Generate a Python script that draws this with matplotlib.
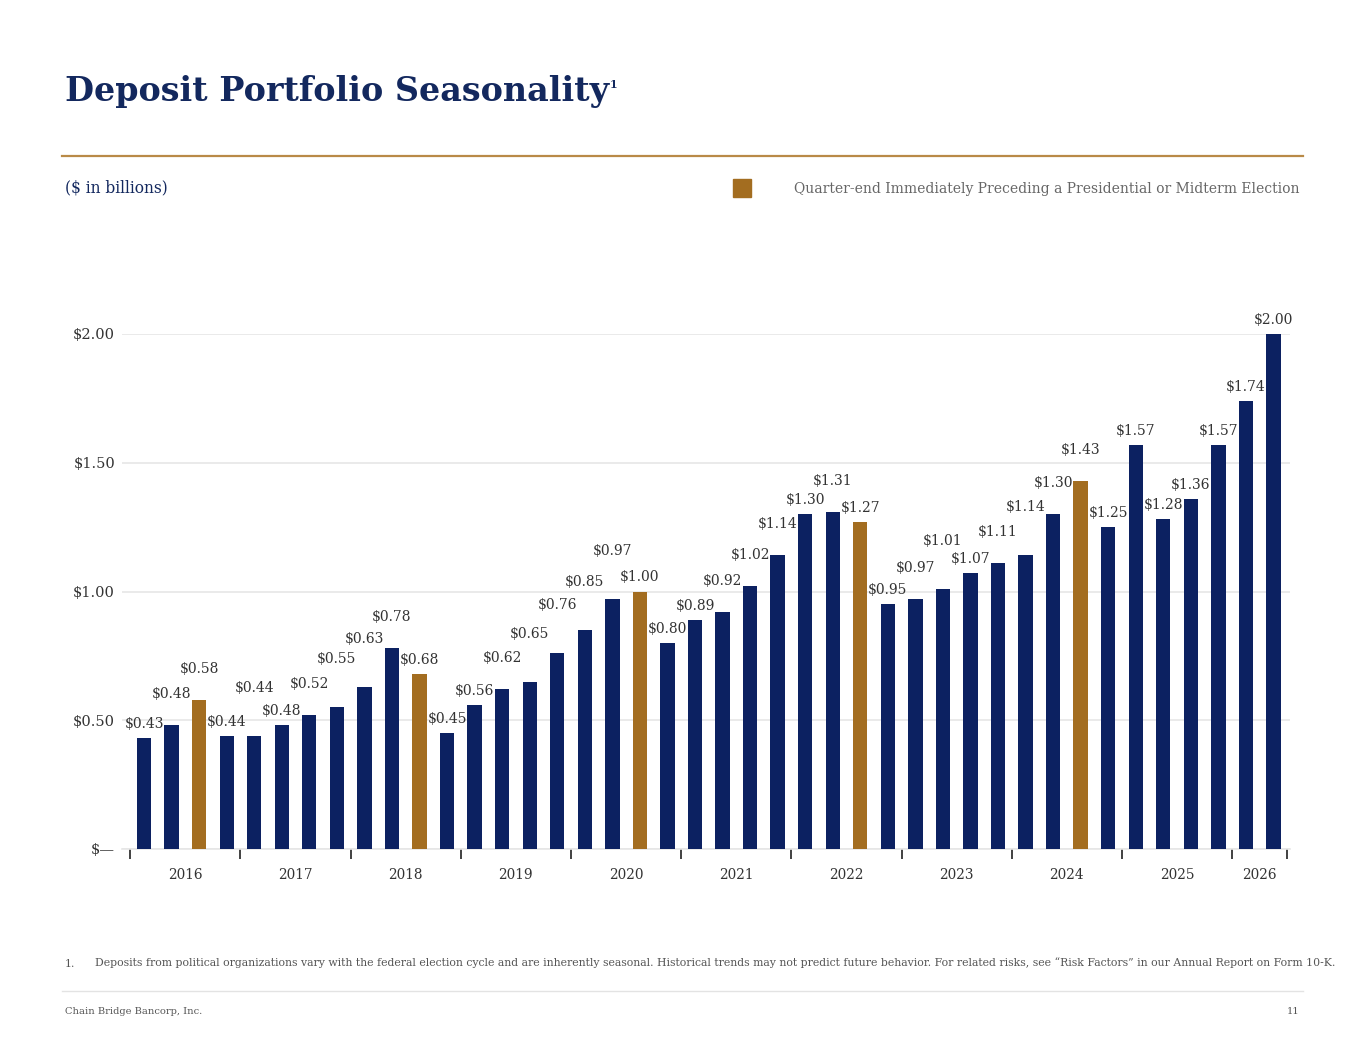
import matplotlib
matplotlib.use("Agg")
import matplotlib.pyplot as plt
from matplotlib.lines import Line2D
from matplotlib.patches import Rectangle

# ---- data ----
years = ["2016", "2017", "2018", "2019", "2020", "2021", "2022", "2023", "2024", "2025", "2026"]
quarters_per_year = [4, 4, 4, 4, 4, 4, 4, 4, 4, 4, 2]
deposits = [0.43, 0.48, 0.58, 0.44,
            0.44, 0.48, 0.52, 0.55,
            0.63, 0.78, 0.68, 0.45,
            0.56, 0.62, 0.65, 0.76,
            0.85, 0.97, 1.00, 0.80,
            0.89, 0.92, 1.02, 1.14,
            1.30, 1.31, 1.27, 0.95,
            0.97, 1.01, 1.07, 1.11,
            1.14, 1.30, 1.43, 1.25,
            1.57, 1.28, 1.36, 1.57,
            1.74, 2.00]
election_quarter = [False, False, True, False,
                    False, False, False, False,
                    False, False, True, False,
                    False, False, False, False,
                    False, False, True, False,
                    False, False, False, False,
                    False, False, True, False,
                    False, False, False, False,
                    False, False, True, False,
                    False, False, False, False,
                    False, False]
# label stacking level (style: vertical offset tier of each value label)
label_level = [0, 1, 1, 0, 2, 0, 1, 2, 2, 1, 0, 0,
               0, 1, 2, 2, 2, 2, 0, 0, 0, 1, 1, 1,
               0, 1, 0, 0, 1, 2, 0, 1, 2, 1, 1, 0,
               0, 0, 0, 0, 0, 0]
yticks = [0.0, 0.5, 1.0, 1.5, 2.0]
ytick_labels = ["$\u2014", "$0.50", "$1.00", "$1.50", "$2.00"]

# ---- style ----
NAVY = "#0C2161"
GOLD = "#A36D20"
TITLE = "#13285E"
RULE = "#B98A47"
GREY = "#666666"
LABEL = "#333333"
SERIF = ["DejaVu Serif"]

plt.rcParams["font.family"] = SERIF

W, H = 1365, 1055
fig = plt.figure(figsize=(W / 100, H / 100), dpi=100)

def fx(px):
    return px / W

def fy(py):
    return 1 - py / H

# Title
fig.text(fx(65), fy(92), "Deposit Portfolio Seasonality", fontsize=24, fontweight="bold",
         color=TITLE, va="center", ha="left")
fig.text(fx(610), fy(84), "1", fontsize=8, fontweight="bold", color=TITLE, va="center", ha="left")

# gold rule
fig.add_artist(Line2D([fx(62), fx(1303)], [fy(156), fy(156)], color=RULE, lw=1.6))

fig.text(fx(65), fy(188), "($ in billions)", fontsize=11.2, color=TITLE, va="center", ha="left")

# legend
fig.add_artist(Rectangle((fx(733), fy(197)), fx(18), 18 / H, color=GOLD, transform=fig.transFigure))
fig.text(fx(1300), fy(189), "Quarter-end Immediately Preceding a Presidential or Midterm Election",
         fontsize=10, color=GREY, va="center", ha="right")

# chart
ax = fig.add_axes([fx(122), fy(849), fx(1290) - fx(122), (849 - 334) / H])
x = list(range(len(deposits)))
colors = [GOLD if e else NAVY for e in election_quarter]
ax.bar(x, deposits, width=0.52, color=colors, zorder=3)
ax.set_xlim(-0.8, 41.6)
ax.set_ylim(0, 2.0)

level_px = [14, 31, 48]
for xi, v, lv in zip(x, deposits, label_level):
    ax.annotate(f"${v:.2f}", (xi, v), xytext=(0, level_px[lv]), textcoords="offset pixels",
                ha="center", va="center", fontsize=10, color=LABEL, zorder=4,
                annotation_clip=False)

ax.set_yticks(yticks)
ax.set_yticklabels(ytick_labels, fontsize=10.5, color=LABEL)
ax.tick_params(axis="y", length=0, pad=5)
ax.grid(axis="y", color="#E6E6E6", lw=1.2, zorder=0)
for s in ["top", "right", "left"]:
    ax.spines[s].set_visible(False)
ax.spines["bottom"].set_color("#E6E6E6")
ax.spines["bottom"].set_linewidth(1.2)

# year boundaries and labels
bounds = [-0.5]
for n in quarters_per_year:
    bounds.append(bounds[-1] + n)
ax.set_xticks(bounds)
ax.set_xticklabels([])
ax.tick_params(axis="x", length=7, width=1.3, color="#333333", direction="out")
centers = [(a + b) / 2 for a, b in zip(bounds[:-1], bounds[1:])]
ax.set_xticks(centers, minor=True)
ax.set_xticklabels(years, minor=True, fontsize=9.8, color=LABEL)
ax.tick_params(axis="x", which="minor", length=0, pad=14)

# footnote
fig.text(fx(65), fy(964), "1.", fontsize=7.8, color="#555555", va="center", ha="left")
fig.text(fx(1335), fy(963),
         "Deposits from political organizations vary with the federal election cycle and are inherently seasonal. "
         "Historical trends may not predict future behavior. For related risks, see \u201cRisk Factors\u201d in our Annual Report on Form 10-K.",
         fontsize=7.8, color="#555555", va="center", ha="right")
fig.add_artist(Line2D([fx(62), fx(1303)], [fy(991), fy(991)], color="#E3E3E3", lw=1.0))
fig.text(fx(65), fy(1011), "Chain Bridge Bancorp, Inc.", fontsize=7.1, color="#555555", va="center", ha="left")
fig.text(fx(1300), fy(1011), "11", fontsize=7.1, color="#555555", va="center", ha="right")

fig.savefig("out.png", dpi=100, facecolor="white")
